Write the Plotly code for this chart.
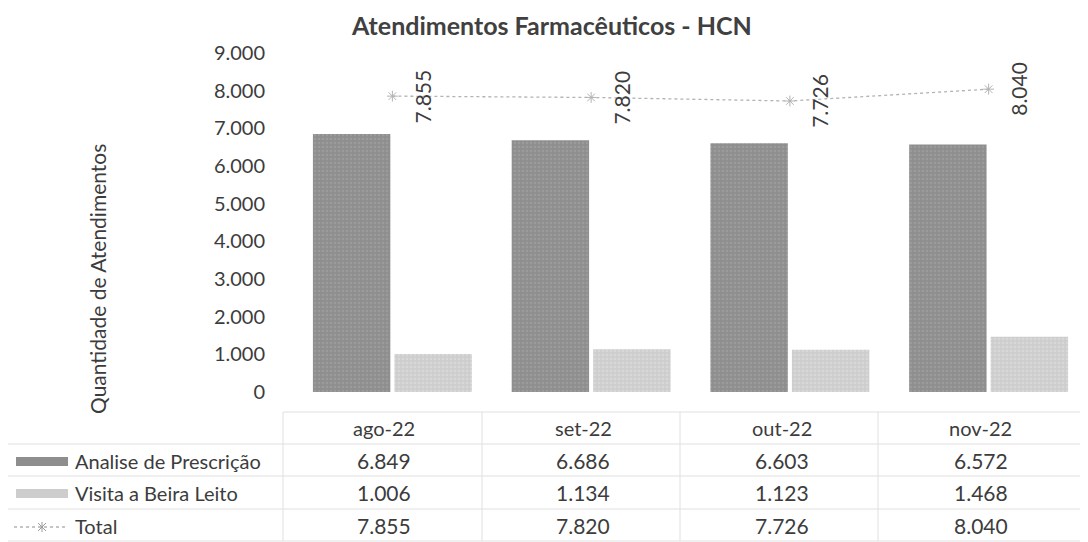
import plotly.graph_objects as go

categories = ["ago-22", "set-22", "out-22", "nov-22"]
analise = [6849, 6686, 6603, 6572]
visita = [1006, 1134, 1123, 1468]
total = [7855, 7820, 7726, 8040]
y_ticks = [0, 1000, 2000, 3000, 4000, 5000, 6000, 7000, 8000, 9000]

# page body has an 8px margin: figure is sized/positioned to compensate
OFF = 8
W, H = 1088 - OFF, 542 - OFF
FONT = "Lato"
TXT = "#3c3c3c"
C_AN = "#8e8e8e"
C_VI = "#cdcdcd"
C_TOT = "#b3b3b3"

def fmt(v):
    return f"{v:,}".replace(",", ".")

def py(px):
    return 1 - (px - OFF) / H

def pxx(px):
    return (px - OFF) / W

x0_dom = pxx(293)

fig = go.Figure()
fig.add_trace(go.Bar(x=categories, y=analise, name="Analise de Prescrição",
                     marker=dict(color=C_AN, line=dict(width=0),
                                 pattern=dict(shape=".", fgcolor="#a8a8a8", size=4, solidity=0.3))))
fig.add_trace(go.Bar(x=categories, y=visita, name="Visita a Beira Leito",
                     marker=dict(color=C_VI, line=dict(width=0),
                                 pattern=dict(shape=".", fgcolor="#e2e2e2", size=4, solidity=0.3))))
fig.add_trace(go.Scatter(x=categories, y=total, name="Total", mode="lines+markers",
                         line=dict(color=C_TOT, width=1.3, dash="dot"),
                         marker=dict(symbol="asterisk-open", size=9,
                                     line=dict(color="#9a9a9a", width=1))))

annotations = []
# rotated data labels for total
for c, v in zip(categories, total):
    annotations.append(dict(x=c, y=v, xref="x", yref="y", text=fmt(v), showarrow=False,
                            textangle=-90, xshift=30, xanchor="center", yanchor="middle",
                            font=dict(family=FONT, size=21, color=TXT)))

# table texts
row_y = [428, 460, 492, 525]
for c in categories:
    annotations.append(dict(x=c, y=py(row_y[0]), xref="x", yref="paper", text=c, showarrow=False,
                            xanchor="center", yanchor="middle", xshift=-8,
                            font=dict(family=FONT, size=20, color=TXT)))
for series, ry in zip([analise, visita, total], row_y[1:]):
    for c, v in zip(categories, series):
        annotations.append(dict(x=c, y=py(ry), xref="x", yref="paper", text=fmt(v), showarrow=False,
                                xanchor="center", yanchor="middle", xshift=-8,
                                font=dict(family=FONT, size=21, color=TXT)))

row_names = ["Analise de Prescrição", "Visita a Beira Leito", "Total"]
for name, ry in zip(row_names, row_y[1:]):
    annotations.append(dict(x=pxx(73), y=py(ry + 1), xref="paper", yref="paper", text=name,
                            showarrow=False, xanchor="left", yanchor="middle",
                            font=dict(family=FONT, size=20, color=TXT)))

# title & axis title
annotations.append(dict(x=pxx(551), y=py(25), xref="paper", yref="paper",
                        text="<b>Atendimentos Farmacêuticos - HCN</b>", showarrow=False,
                        xanchor="center", yanchor="middle",
                        font=dict(family=FONT, size=25, color="#404040")))
annotations.append(dict(x=pxx(97), y=py(279), xref="paper", yref="paper",
                        text="Quantidade de Atendimentos", showarrow=False, textangle=-90,
                        xanchor="center", yanchor="middle",
                        font=dict(family=FONT, size=21, color=TXT)))

shapes = []
grid = dict(color="#e0e0e0", width=1)
# table horizontal lines
shapes.append(dict(type="line", xref="paper", yref="paper", x0=pxx(283), x1=1, y0=py(412), y1=py(412), line=grid))
for ly in [444, 476, 509, 541]:
    shapes.append(dict(type="line", xref="paper", yref="paper", x0=pxx(5), x1=1, y0=py(ly), y1=py(ly), line=grid))
# vertical lines
for lx in [283, 482, 680, 878, 1086]:
    shapes.append(dict(type="line", xref="paper", yref="paper", x0=pxx(lx), x1=pxx(lx), y0=py(412), y1=py(541), line=grid))
shapes.append(dict(type="line", xref="paper", yref="paper", x0=pxx(5), x1=pxx(5), y0=py(444), y1=py(541), line=grid))
# legend keys
shapes.append(dict(type="rect", xref="paper", yref="paper", x0=pxx(16), x1=pxx(68), y0=py(466), y1=py(457),
                   fillcolor=C_AN, line=dict(width=0)))
shapes.append(dict(type="rect", xref="paper", yref="paper", x0=pxx(16), x1=pxx(68), y0=py(498), y1=py(489),
                   fillcolor=C_VI, line=dict(width=0)))
shapes.append(dict(type="line", xref="paper", yref="paper", x0=pxx(14), x1=pxx(67), y0=py(527), y1=py(527),
                   line=dict(color=C_TOT, width=1.3, dash="dot")))
cx, cy = 42, 527
for dx, dy in [(-4, -4), (-4, 4), (0, -5)]:
    shapes.append(dict(type="line", xref="paper", yref="paper", x0=pxx(cx + dx), x1=pxx(cx - dx),
                       y0=py(cy + dy), y1=py(cy - dy), line=dict(color="#9a9a9a", width=1)))

fig.update_layout(
    width=W, height=H,
    margin=dict(l=0, r=0, t=0, b=0, autoexpand=False),
    paper_bgcolor="white", plot_bgcolor="white",
    separators=",.",
    barmode="group", bargap=0.18, bargroupgap=0.05,
    showlegend=False,
    xaxis=dict(domain=[x0_dom, 1], showticklabels=False, showgrid=False, zeroline=False,
               showline=False, ticks=""),
    yaxis=dict(domain=[py(392), py(53)], range=[0, 9000], tickvals=y_ticks, tickformat=",d",
               showgrid=False, zeroline=False, showline=False, ticks="",
               ticklabelstandoff=27,
               tickfont=dict(family=FONT, size=20, color=TXT)),
    annotations=annotations, shapes=shapes,
)

fig.write_html("out.html")
